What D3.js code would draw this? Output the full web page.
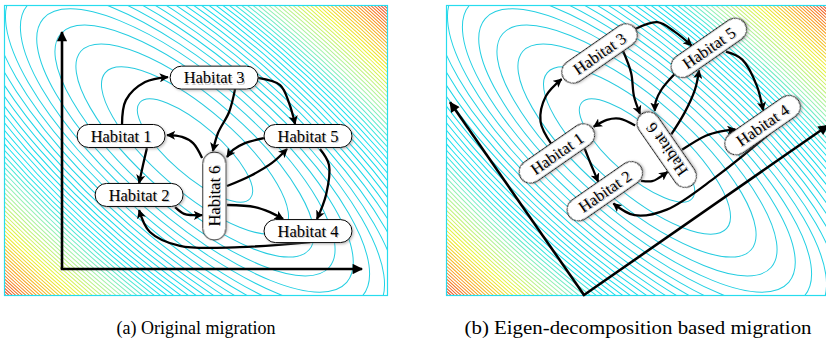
<!DOCTYPE html>
<html><head><meta charset="utf-8">
<script src="https://cdn.jsdelivr.net/npm/d3@7"></script>
<style>body{margin:0;background:#fff}svg{display:block}</style>
</head><body>
<svg id="chart" width="826" height="343"></svg>
<script>
// ---- data ----
const captions = ["(a) Original migration", "(b) Eigen-decomposition based migration"];
const habitats = ["Habitat 1", "Habitat 2", "Habitat 3", "Habitat 4", "Habitat 5", "Habitat 6"];
const habitatX = [1.97, 2.57, 5.07, 8.2, 8.2, 5.08];   // axis units
const habitatY = [4.49, 2.50, 6.46, 1.28, 4.49, 2.46];
const habitatVertical = [false, false, false, false, false, true];
const migrationFrom = [1, 3, 3, 6, 1, 5, 6, 2, 6, 5, 4];
const migrationTo   = [3, 6, 5, 1, 2, 6, 5, 6, 4, 4, 2];
const migrationRoutes = [
  [[2.0,4.86],[2.13,5.70],[2.77,6.31],[3.53,6.48]],
  [[5.77,6.08],[5.57,5.30],[5.2,4.59],[5.03,3.98]],
  [[6.53,6.45],[7.27,6.21],[7.57,5.60],[7.77,4.89]],
  [[4.67,3.75],[4.37,4.25],[4.0,4.46],[3.5,4.52]],
  [[2.83,4.08],[2.7,3.51],[2.57,2.90]],
  [[6.73,4.42],[6.1,4.25],[5.7,4.02],[5.5,3.78]],
  [[5.5,2.80],[6.27,3.14],[7.0,3.58],[7.5,4.05]],
  [[3.77,2.09],[4.07,1.86],[4.33,1.82],[4.67,1.82]],
  [[5.5,2.16],[6.43,2.09],[6.93,1.92],[7.37,1.69]],
  [[8.6,4.05],[8.9,3.51],[8.8,2.50],[8.5,1.69]],
  [[8.27,0.91],[5.93,0.74],[3.93,0.78],[2.93,1.25],[2.57,1.99]]
];
const axisXDomain = [0, 10];
const axisYDomain = [0, 8];
const contourLevels = d3.range(1, 60);   // level index of the landscape contours
const eigenAngle = -34.8;                 // rotation of eigen-basis (degrees)

// ---- layout ----
const svg = d3.select("#chart");
const W = 384, H = 291;
const frames = [{x:4, y:5}, {x:446, y:5}];
const x = d3.scaleLinear().domain(axisXDomain).range([62, 362]);
const y = d3.scaleLinear().domain(axisYDomain).range([269, 32]);
const serif = "'Liberation Serif','Times New Roman',serif";

const defs = svg.append("defs");
defs.append("marker").attr("id","arr").attr("viewBox","0 0 10 10").attr("refX",9).attr("refY",5)
  .attr("markerWidth",4).attr("markerHeight",4).attr("orient","auto").attr("markerUnits","strokeWidth")
  .append("path").attr("d","M0,0 L10,5 L0,10 L2.5,5 Z").attr("fill","#000");
defs.append("marker").attr("id","axarr").attr("viewBox","0 0 10 10").attr("refX",9).attr("refY",5)
  .attr("markerWidth",4.5).attr("markerHeight",4).attr("orient","auto").attr("markerUnits","strokeWidth")
  .append("path").attr("d","M0,0 L10,5 L0,10 Z").attr("fill","#000");
const f = defs.append("filter").attr("id","sh").attr("x","-20%").attr("y","-30%").attr("width","150%").attr("height","180%");
f.append("feDropShadow").attr("dx",1.3).attr("dy",1.3).attr("stdDeviation",0.9).attr("flood-color","#777").attr("flood-opacity",0.45);

const color = d3.scaleLinear()
  .domain([1, 17, 25, 35, 45, 55])
  .range(["#28c9de", "#14e0ee", "#a4f2aa", "#ecf232", "#f8a020", "#ee3a1e"])
  .clamp(true);

// contour landscape: quadratic form, levels equally spaced
const landscape = {angle: 41, d: 8768, n0: 0.39, ratio: 2.93};

frames.forEach((fr, i) => {
  const cid = "clip" + i;
  defs.append("clipPath").attr("id", cid).append("rect")
    .attr("x", fr.x).attr("y", fr.y).attr("width", W).attr("height", H);
  const g = svg.append("g").attr("clip-path", `url(#${cid})`);
  const cx = fr.x + W / 2 - 1, cy = fr.y + H / 2;
  g.selectAll("ellipse").data(contourLevels).join("ellipse")
    .attr("cx", 0).attr("cy", 0)
    .attr("rx", n => Math.sqrt(landscape.d * (n - landscape.n0)))
    .attr("ry", n => Math.sqrt(landscape.d * (n - landscape.n0)) / landscape.ratio)
    .attr("transform", `translate(${cx},${cy}) rotate(${landscape.angle})`)
    .attr("fill", "none").attr("stroke", n => color(n)).attr("stroke-width", 1);
  svg.append("rect").attr("x", fr.x + 0.5).attr("y", fr.y + 0.5).attr("width", W - 1).attr("height", H - 1)
    .attr("fill", "none").attr("stroke", "#27dcee").attr("stroke-width", 1.2);

  // overlay: axes + migration graph
  const ov = svg.append("g");
  if (i === 1) {
    ov.attr("transform", `translate(584,295) rotate(${eigenAngle}) scale(0.99) translate(${-x(0)},${-y(0)})`);
  }
  ov.append("line").attr("x1", x(0)).attr("y1", y(0)).attr("x2", x(0)).attr("y2", y(axisYDomain[1]))
    .attr("stroke","#000").attr("stroke-width",2.6).attr("marker-end","url(#axarr)");
  ov.append("line").attr("x1", x(0) - 1.3).attr("y1", y(0)).attr("x2", x(axisXDomain[1])).attr("y2", y(0))
    .attr("stroke","#000").attr("stroke-width",2.6).attr("marker-end","url(#axarr)");

  const line = d3.line().x(p => x(p[0])).y(p => y(p[1])).curve(d3.curveCatmullRom.alpha(0.5));
  ov.selectAll("path.mig").data(migrationRoutes).join("path").attr("class","mig")
    .attr("d", line).attr("fill","none").attr("stroke","#000").attr("stroke-width",2.3)
    .attr("marker-end","url(#arr)");

  const nodes = ov.selectAll("g.node").data(habitats).join("g").attr("class","node")
    .attr("transform", (h, k) => `translate(${x(habitatX[k])},${y(habitatY[k])})` + (habitatVertical[k] ? " rotate(-90)" : ""));
  nodes.append("rect").attr("x",-44).attr("y",-11.5).attr("width",88).attr("height",23)
    .attr("rx",11.5).attr("ry",11.5).attr("fill","#fff").attr("stroke","#000").attr("stroke-width",1)
    .attr("filter","url(#sh)");
  nodes.append("text").text(h => h).attr("text-anchor","middle").attr("dy","0.35em")
    .attr("x", 1.2).attr("y", 1.2)
    .attr("font-family", serif).attr("font-size",16.5).attr("fill","#000").attr("opacity",0.22);
  nodes.append("text").text(h => h).attr("text-anchor","middle").attr("dy","0.35em")
    .attr("font-family", serif).attr("font-size",16.5).attr("fill","#000");

  const cap = svg.append("text").attr("x", fr.x + W / 2).attr("y", 334)
    .attr("text-anchor","middle").attr("font-family", serif)
    .attr("font-size", i === 0 ? 18 : 19).text(captions[i]);
  if (i === 1) cap.attr("textLength", 347).attr("lengthAdjust", "spacingAndGlyphs");
});
</script>
</body></html>
